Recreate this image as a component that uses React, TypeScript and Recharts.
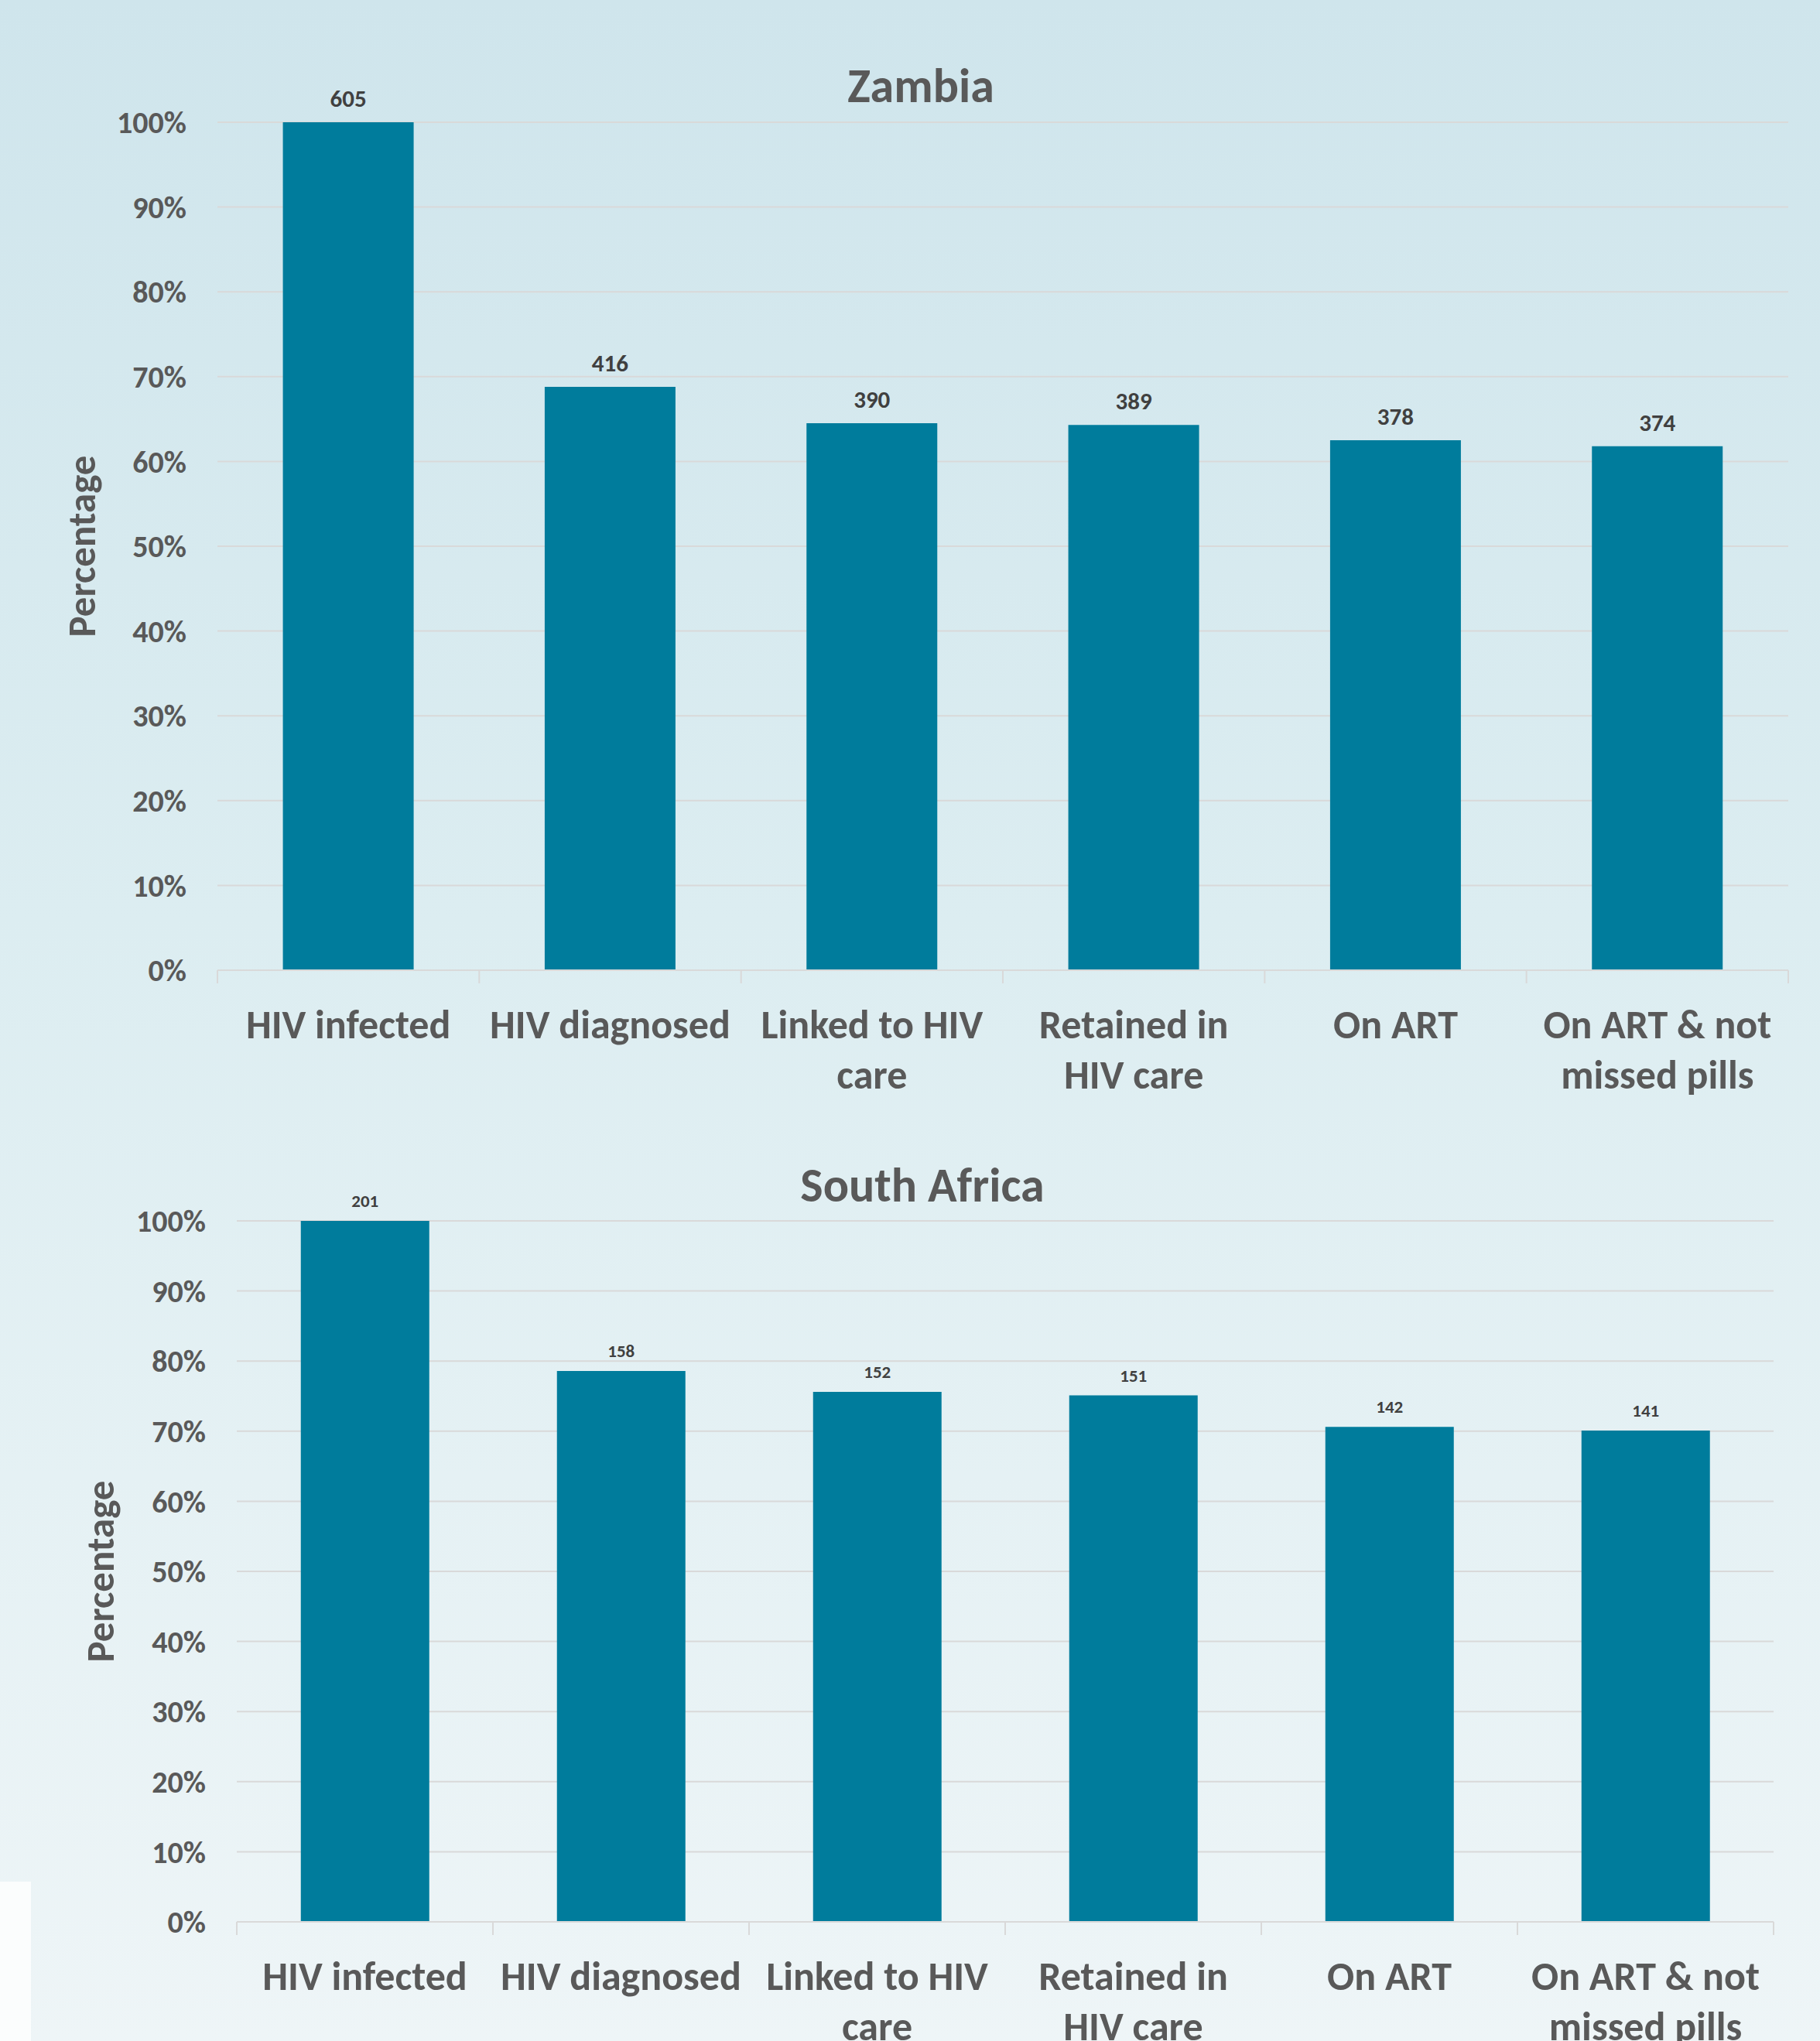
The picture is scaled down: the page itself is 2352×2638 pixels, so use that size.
import React from 'react'
import {
    BarChart,
    Bar,
    XAxis,
    YAxis,
    CartesianGrid,
    LabelList,
    Label
} from 'recharts'

const categories = [
    'HIV infected',
    'HIV diagnosed',
    'Linked to HIV care',
    'Retained in HIV care',
    'On ART',
    'On ART & not missed pills'
]

// how each category label breaks onto lines under the axis
const categoryLines = [
    ['HIV infected'],
    ['HIV diagnosed'],
    ['Linked to HIV', 'care'],
    ['Retained in', 'HIV care'],
    ['On ART'],
    ['On ART & not', 'missed pills']
]

const zambiaCounts = [605, 416, 390, 389, 378, 374]
const zambiaPct = [100, 68.8, 64.5, 64.3, 62.5, 61.8]

const saCounts = [201, 158, 152, 151, 142, 141]
const saPct = [100, 78.6, 75.6, 75.1, 70.6, 70.1]

const yTicks = [0, 10, 20, 30, 40, 50, 60, 70, 80, 90, 100]

const FONT = 'Carlito, Lato, "Open Sans", sans-serif'
const GREY = '#595959'
const BAR = '#007C9C'
const GRID = '#d9d9d9'

const zambiaData = categories.map((c, i) => ({ name: c, pct: zambiaPct[i], count: zambiaCounts[i] }))
const saData = categories.map((c, i) => ({ name: c, pct: saPct[i], count: saCounts[i] }))

const XTick = (props: any) => {
    const { x, y, index, band, count } = props
    const lines = categoryLines[index] || []
    return (
        <g>
            <line x1={x - band / 2} y1={y} x2={x - band / 2} y2={y + 17} stroke={GRID} strokeWidth={2} />
            {index === count - 1 && (
                <line x1={x + band / 2} y1={y} x2={x + band / 2} y2={y + 17} stroke={GRID} strokeWidth={2} />
            )}
            {lines.map((l: string, i: number) => (
                <text
                    key={i}
                    x={x}
                    y={y + 70 + i * 65}
                    textAnchor="middle"
                    dominantBaseline="central"
                    fill={GREY}
                    fontSize={52}
                    fontWeight={700}
                    fontFamily={FONT}
                >
                    {l}
                </text>
            ))}
        </g>
    )
}

type PanelProps = {
    data: any[]
    width: number
    height: number
    top: number
    axisWidth: number
    rightGap: number
    xAxisHeight: number
    labelSize: number
    labelOffset: number
    titleX: number
}

const Panel = ({ data, width, height, top, axisWidth, rightGap, xAxisHeight, labelSize, labelOffset, titleX }: PanelProps) => {
    const band = (width - axisWidth - rightGap) / data.length
    return (
        <BarChart
            width={width}
            height={height}
            data={data}
            margin={{ top, right: rightGap, left: 0, bottom: 0 }}
            barCategoryGap="25%"
        >
            <CartesianGrid vertical={false} stroke={GRID} strokeWidth={2} />
            <XAxis
                dataKey="name"
                height={xAxisHeight}
                axisLine={{ stroke: GRID, strokeWidth: 2 }}
                tickLine={false}
                tickSize={0}
                tickMargin={0}
                interval={0}
                tick={(p: any) => <XTick {...p} band={band} count={data.length} />}
            />
            <YAxis
                width={axisWidth}
                domain={[0, 100]}
                ticks={yTicks}
                tickFormatter={(v) => `${v}%`}
                axisLine={false}
                tickLine={false}
                tickSize={0}
                tickMargin={40}
                tick={{ fill: GREY, fontSize: 40, fontWeight: 700, fontFamily: FONT }}
            >
                <Label
                    content={(lp: any) => {
                        const vb = lp.viewBox || {}
                        const cy = vb.y + vb.height / 2
                        return (
                            <text
                                x={titleX}
                                y={cy}
                                transform={`rotate(-90 ${titleX} ${cy})`}
                                textAnchor="middle"
                                fill={GREY}
                                fontSize={51}
                                fontWeight={700}
                                fontFamily={FONT}
                            >
                                Percentage
                            </text>
                        )
                    }}
                />
            </YAxis>
            <Bar dataKey="pct" fill={BAR} isAnimationActive={false}>
                <LabelList
                    dataKey="count"
                    position="top"
                    offset={labelOffset}
                    fill="#404040"
                    fontSize={labelSize}
                    fontWeight={700}
                    fontFamily={FONT}
                />
            </Bar>
        </BarChart>
    )
}

const titleStyle: React.CSSProperties = {
    position: 'absolute',
    width: 600,
    textAlign: 'center',
    fontFamily: FONT,
    fontWeight: 700,
    fontSize: 62,
    lineHeight: '62px',
    color: GREY
}

export default function App() {
    return (
        <div
            style={{
                position: 'absolute',
                left: 0,
                top: 0,
                width: 2352,
                height: 2638,
                overflow: 'hidden',
                background: 'linear-gradient(180deg, #cfe5ec 0%, #dcedf1 45%, #eef5f7 100%)'
            }}
        >
            <div style={{ ...titleStyle, left: 1190 - 300, top: 80 }}>Zambia</div>
            <div style={{ ...titleStyle, left: 1192 - 300, top: 1501 }}>South Africa</div>

            <div style={{ position: 'absolute', left: 0, top: 0 }}>
                <Panel
                    data={zambiaData}
                    width={2352}
                    height={1440}
                    top={158}
                    axisWidth={281}
                    rightGap={41}
                    xAxisHeight={186}
                    labelSize={31}
                    labelOffset={20}
                    titleX={123}
                />
            </div>

            <div style={{ position: 'absolute', left: 0, top: 1440 }}>
                <Panel
                    data={saData}
                    width={2352}
                    height={1198}
                    top={138}
                    axisWidth={306}
                    rightGap={60}
                    xAxisHeight={154}
                    labelSize={23}
                    labelOffset={18}
                    titleX={147}
                />
            </div>

            <div style={{ position: 'absolute', left: 0, top: 2432, width: 40, height: 206, background: '#fbfdfd' }} />
        </div>
    )
}
